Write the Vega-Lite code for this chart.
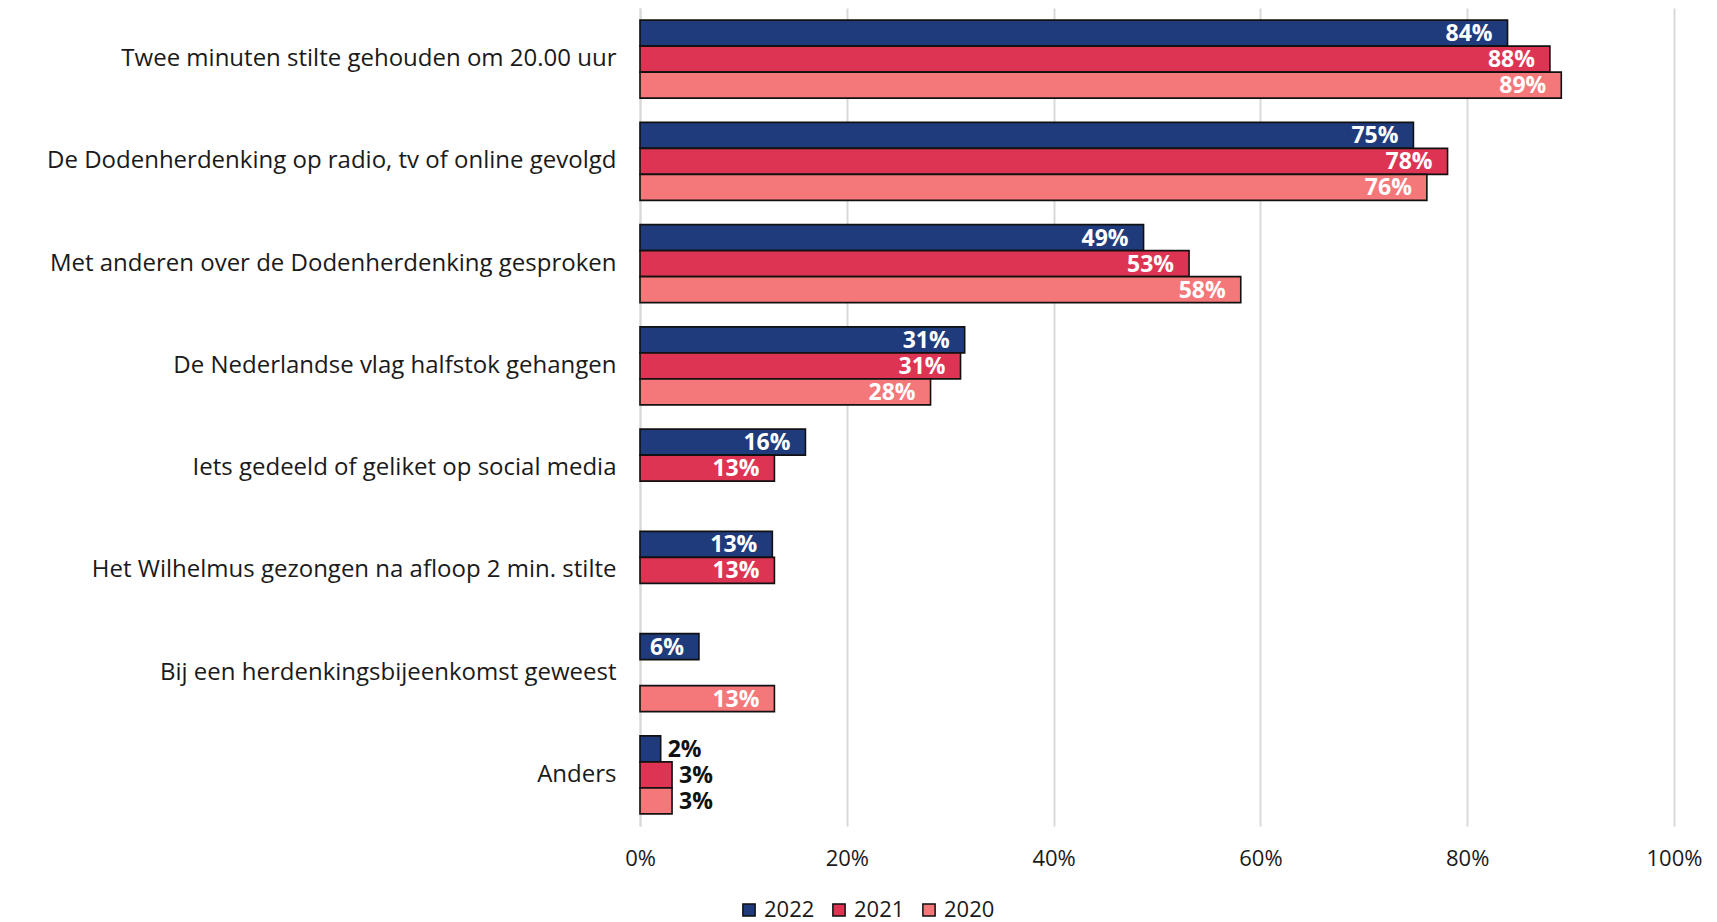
{
  "$schema": "https://vega.github.io/schema/vega-lite/v6.json",
  "autosize": {"type": "none"},
  "padding": {"left": 640, "top": 8, "right": 43, "bottom": 96},
  "width": 1034,
  "height": 818,
  "background": "white",
  "config": {
    "font": "Open Sans",
    "view": {"stroke": null}
  },
  "data": {
    "values": [
      {"cat": "Twee minuten stilte gehouden om 20.00 uur", "year": "2022", "v": 0.839},
      {"cat": "Twee minuten stilte gehouden om 20.00 uur", "year": "2021", "v": 0.880},
      {"cat": "Twee minuten stilte gehouden om 20.00 uur", "year": "2020", "v": 0.891},
      {"cat": "De Dodenherdenking op radio, tv of online gevolgd", "year": "2022", "v": 0.748},
      {"cat": "De Dodenherdenking op radio, tv of online gevolgd", "year": "2021", "v": 0.781},
      {"cat": "De Dodenherdenking op radio, tv of online gevolgd", "year": "2020", "v": 0.761},
      {"cat": "Met anderen over de Dodenherdenking gesproken", "year": "2022", "v": 0.487},
      {"cat": "Met anderen over de Dodenherdenking gesproken", "year": "2021", "v": 0.531},
      {"cat": "Met anderen over de Dodenherdenking gesproken", "year": "2020", "v": 0.581},
      {"cat": "De Nederlandse vlag halfstok gehangen", "year": "2022", "v": 0.314},
      {"cat": "De Nederlandse vlag halfstok gehangen", "year": "2021", "v": 0.310},
      {"cat": "De Nederlandse vlag halfstok gehangen", "year": "2020", "v": 0.281},
      {"cat": "Iets gedeeld of geliket op social media", "year": "2022", "v": 0.160},
      {"cat": "Iets gedeeld of geliket op social media", "year": "2021", "v": 0.130},
      {"cat": "Het Wilhelmus gezongen na afloop 2 min. stilte", "year": "2022", "v": 0.128},
      {"cat": "Het Wilhelmus gezongen na afloop 2 min. stilte", "year": "2021", "v": 0.130},
      {"cat": "Bij een herdenkingsbijeenkomst geweest", "year": "2022", "v": 0.057},
      {"cat": "Bij een herdenkingsbijeenkomst geweest", "year": "2020", "v": 0.130},
      {"cat": "Anders", "year": "2022", "v": 0.020},
      {"cat": "Anders", "year": "2021", "v": 0.031},
      {"cat": "Anders", "year": "2020", "v": 0.031}
    ]
  },
  "encoding": {
    "y": {
      "field": "cat",
      "type": "nominal",
      "sort": null,
      "scale": {"paddingInner": 0.237, "paddingOuter": 0.1185},
      "axis": {
        "title": null,
        "ticks": false,
        "domain": true,
        "domainColor": "#D9D9D9",
        "domainWidth": 2,
        "labelFontSize": 24,
        "labelColor": "#1a1a1a",
        "labelPadding": 24,
        "labelLimit": 700
      }
    },
    "yOffset": {
      "field": "year",
      "type": "nominal",
      "scale": {"domain": ["2022", "2021", "2020"], "paddingInner": 0, "paddingOuter": 0}
    },
    "x": {
      "field": "v",
      "type": "quantitative",
      "scale": {"domain": [0, 1], "nice": false},
      "axis": {
        "title": null,
        "format": ".0%",
        "values": [0, 0.2, 0.4, 0.6, 0.8, 1],
        "ticks": false,
        "domain": false,
        "grid": true,
        "gridColor": "#D9D9D9",
        "gridWidth": 2,
        "labelFlush": false,
        "labelFontSize": 22,
        "labelColor": "#1a1a1a",
        "labelPadding": 22
      }
    }
  },
  "layer": [
    {
      "mark": {"type": "bar", "stroke": "#111111", "strokeWidth": 1.6},
      "encoding": {
        "color": {
          "field": "year",
          "type": "nominal",
          "scale": {"domain": ["2022", "2021", "2020"], "range": ["#1F3B7B", "#DD3453", "#F47779"]},
          "legend": {
            "title": null,
            "orient": "none",
            "direction": "horizontal",
            "legendX": 98,
            "legendY": 891,
            "padding": 0,
            "symbolType": "square",
            "symbolSize": 150,
            "symbolStrokeColor": "#111111",
            "symbolStrokeWidth": 1.5,
            "labelFontSize": 22,
            "labelColor": "#1a1a1a",
            "labelOffset": 4,
            "columnPadding": 13
          }
        }
      }
    },
    {
      "transform": [{"filter": "datum.v >= 0.05"}],
      "mark": {"type": "text", "align": "right", "baseline": "middle", "dx": -15, "dy": 1, "fontSize": 23, "fontWeight": "bold", "color": "white"},
      "encoding": {
        "text": {"field": "v", "type": "quantitative", "format": ".0%"}
      }
    },
    {
      "transform": [{"filter": "datum.v < 0.05"}],
      "mark": {"type": "text", "align": "left", "baseline": "middle", "dx": 7, "dy": 1, "fontSize": 23, "fontWeight": "bold", "color": "#111111"},
      "encoding": {
        "text": {"field": "v", "type": "quantitative", "format": ".0%"}
      }
    }
  ]
}
